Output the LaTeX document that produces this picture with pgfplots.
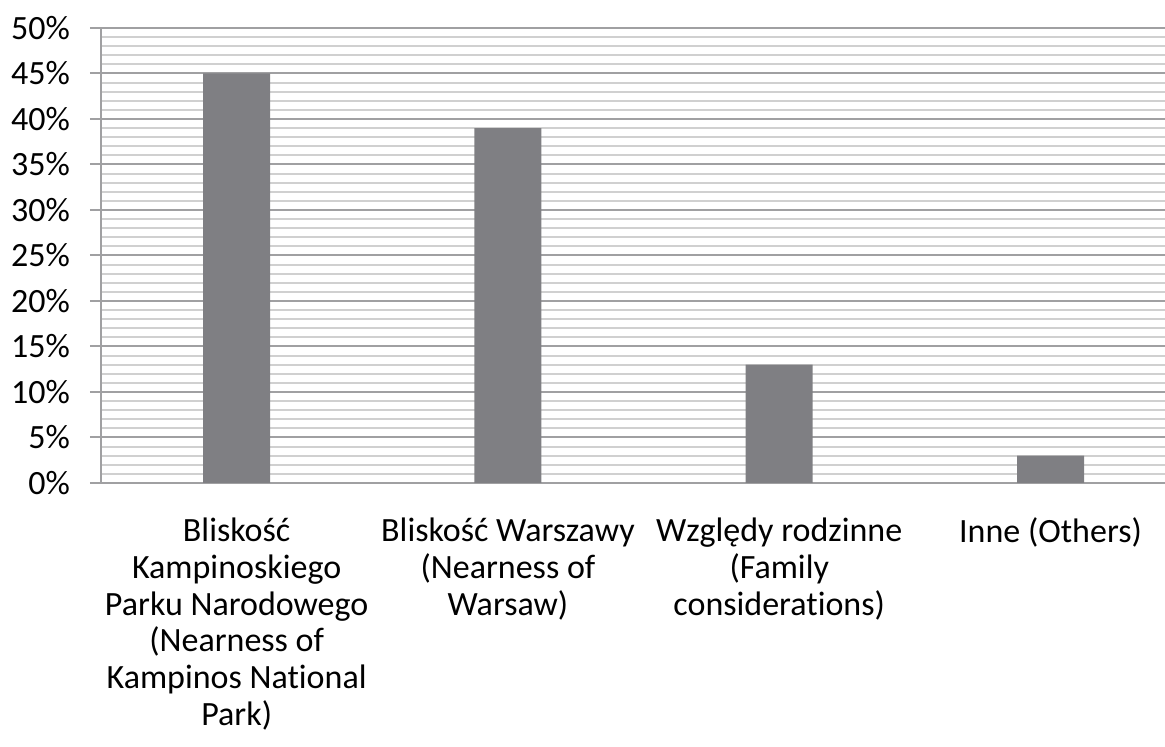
\documentclass[border=0pt]{standalone}
\usepackage{pgfplots}
\pgfplotsset{compat=1.18}
\usepackage{fontspec}
\setmainfont{Carlito}[Ligatures=NoCommon]
\definecolor{barc}{RGB}{127,127,131}
\definecolor{majg}{RGB}{160,160,162}
\definecolor{ming}{RGB}{208,208,208}
\begin{document}
\begin{tikzpicture}
\useasboundingbox (0,0) rectangle (582.5pt,373.5pt);
\begin{axis}[
  at={(50.5pt,132pt)}, anchor=south west,
  scale only axis,
  width=532pt, height=227.5pt,
  xmin=-0.5, xmax=3.422,
  ymin=0, ymax=50,
  ytick={0,5,...,50},
  minor y tick num=4,
  ymajorgrids, yminorgrids,
  major grid style={draw=majg, line width=1pt},
  minor grid style={draw=ming, line width=1pt},
  axis lines=left,
  axis line style={-, draw=majg, line width=1pt},
  tick align=outside,
  major tick length=5.5pt,
  minor tick length=0pt,
  ytick style={draw=majg, line width=1pt},
  xtick={0,1,2,3},
  xtick style={draw=none},
  xticklabels={{Bliskość\\Kampinoskiego\\Parku Narodowego\\(Nearness of\\Kampinos National\\Park)},
               {Bliskość Warszawy\\(Nearness of\\Warsaw)},
               {Względy rodzinne\\(Family\\considerations)},
               {Inne (Others)}},
  x tick label style={align=center, anchor=north, font=\fontsize{17}{18.35}\selectfont, yshift=-8.5pt},
  y tick label style={font=\fontsize{17}{18}\selectfont, xshift=-6.5pt},
  /pgf/number format/assume math mode=true,
  yticklabel={\pgfmathprintnumber{\tick}\%},
  ybar, bar width=33.5pt,
  clip=false,
]
\addplot[fill=barc, draw=none] coordinates {(0,45) (1,39) (2,13) (3,3)};
\end{axis}
\end{tikzpicture}
\end{document}
